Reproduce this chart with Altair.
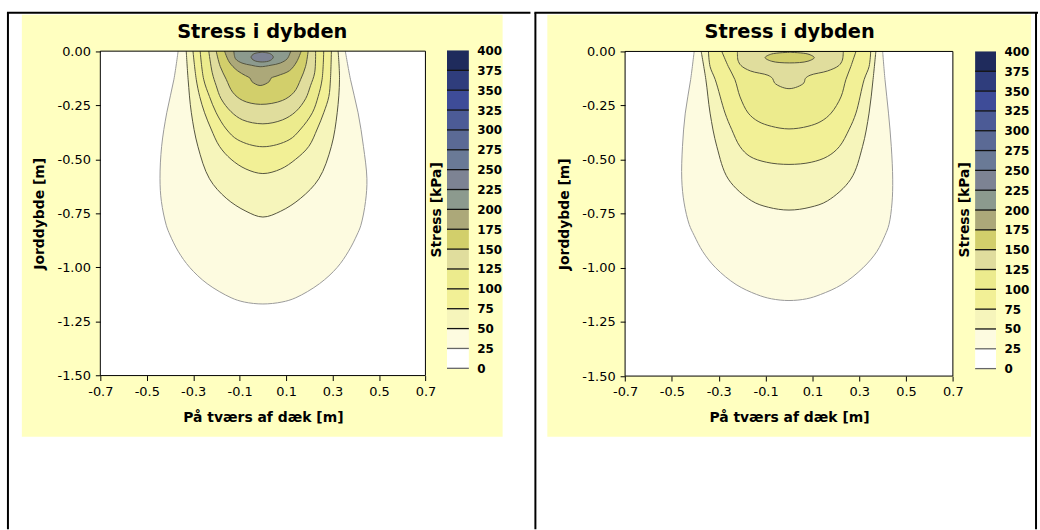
import altair as alt
import pandas as pd

# ------------------------------------------------------------------ data
X_TICKS = [-0.7, -0.5, -0.3, -0.1, 0.1, 0.3, 0.5, 0.7]
Y_TICKS = [0.0, -0.25, -0.5, -0.75, -1.0, -1.25, -1.5]

LEGEND_LO = [0, 25, 50, 75, 100, 125, 150, 175, 200, 225, 250, 275, 300, 325, 350, 375]
LEGEND_HI = [25, 50, 75, 100, 125, 150, 175, 200, 225, 250, 275, 300, 325, 350, 375, 400]
LEGEND_TICKS = [0, 25, 50, 75, 100, 125, 150, 175, 200, 225, 250, 275, 300, 325, 350, 375, 400]

# contour levels (kPa) of the left panel: depth [m], left edge x [m], right edge x [m]
LEFT_LEVELS = [25, 50, 75, 100, 125, 150, 175, 200, 225]
LEFT_DEPTH = {
    25: [0.0, -0.13, -0.285, -0.44, -0.59, -0.695, -0.805, -0.85, -0.925, -1.0, -1.075, -1.14, -1.16, -1.169],
    50: [0.0, -0.13, -0.285, -0.44, -0.59, -0.68, -0.74, -0.767],
    75: [0.0, -0.13, -0.21, -0.285, -0.36, -0.44, -0.5, -0.545, -0.566],
    100: [0.0, -0.13, -0.21, -0.285, -0.36, -0.41, -0.442],
    125: [0.0, -0.1, -0.16, -0.22, -0.28, -0.318, -0.336],
    150: [0.0, -0.07, -0.13, -0.19, -0.228, -0.246],
    175: [0.0, -0.05, -0.09, -0.113, -0.125, -0.14, -0.159],
    200: [0.0, -0.035, -0.055, -0.065, -0.072],
    225: [-0.005, -0.012, -0.0275, -0.043, -0.05],
}
LEFT_XL = {
    25: [-0.365, -0.383, -0.414, -0.436, -0.443, -0.437, -0.416, -0.4, -0.365, -0.315, -0.24, -0.137, -0.08, 0.0],
    50: [-0.33, -0.322, -0.308, -0.28, -0.23, -0.158, -0.073, 0.0],
    75: [-0.301, -0.287, -0.272, -0.251, -0.223, -0.187, -0.137, -0.073, 0.0],
    100: [-0.27, -0.255, -0.23, -0.201, -0.158, -0.108, 0.0],
    125: [-0.233, -0.218, -0.201, -0.18, -0.137, -0.087, 0.0],
    150: [-0.201, -0.184, -0.158, -0.13, -0.087, -0.01],
    175: [-0.165, -0.145, -0.11, -0.075, -0.055, -0.048, -0.012],
    200: [-0.125, -0.118, -0.09, -0.05, -0.012],
    225: [-0.003, -0.038, -0.051, -0.038, -0.003],
}
LEFT_XR = {
    25: [0.355, 0.377, 0.41, 0.433, 0.448, 0.442, 0.422, 0.405, 0.369, 0.32, 0.244, 0.142, 0.082, 0.0],
    50: [0.324, 0.33, 0.32, 0.295, 0.241, 0.163, 0.077, 0.0],
    75: [0.295, 0.291, 0.284, 0.262, 0.234, 0.198, 0.141, 0.077, 0.0],
    100: [0.262, 0.255, 0.238, 0.213, 0.163, 0.113, 0.0],
    125: [0.227, 0.223, 0.205, 0.184, 0.141, 0.084, 0.0],
    150: [0.195, 0.184, 0.163, 0.134, 0.084, -0.01],
    175: [0.165, 0.145, 0.115, 0.065, 0.035, 0.028, -0.012],
    200: [0.12, 0.105, 0.075, 0.035, -0.012],
    225: [-0.003, 0.032, 0.045, 0.032, -0.003],
}

# contour levels of the right panel
RIGHT_LEVELS = [25, 50, 75, 100, 125, 150]
RIGHT_DEPTH = {
    25: [0.0, -0.13, -0.285, -0.44, -0.59, -0.70, -0.80, -0.85, -0.925, -1.0, -1.077, -1.123, -1.143, -1.151],
    50: [0.0, -0.13, -0.285, -0.44, -0.59, -0.69, -0.72, -0.733],
    75: [0.0, -0.07, -0.13, -0.285, -0.36, -0.44, -0.485, -0.512, -0.522],
    100: [0.0, -0.07, -0.13, -0.21, -0.285, -0.323, -0.346, -0.358],
    125: [0.0, -0.04, -0.065, -0.09, -0.11, -0.125, -0.145, -0.163, -0.172],
    150: [-0.004, -0.012, -0.0285, -0.045, -0.053],
}
RIGHT_XL = {
    25: [-0.405, -0.42, -0.443, -0.455, -0.458, -0.448, -0.426, -0.405, -0.368, -0.313, -0.226, -0.138, -0.075, 0.0],
    50: [-0.375, -0.355, -0.337, -0.308, -0.259, -0.16, -0.088, 0.0],
    75: [-0.344, -0.337, -0.315, -0.273, -0.245, -0.209, -0.167, -0.096, 0.0],
    100: [-0.287, -0.259, -0.231, -0.209, -0.174, -0.132, -0.075, 0.0],
    125: [-0.22, -0.218, -0.205, -0.165, -0.09, -0.07, -0.062, -0.035, 0.0],
    150: [0.003, -0.075, -0.102, -0.075, 0.003],
}
RIGHT_XR = {
    25: [0.40, 0.41, 0.425, 0.437, 0.443, 0.44, 0.427, 0.41, 0.375, 0.316, 0.226, 0.135, 0.075, 0.0],
    50: [0.371, 0.359, 0.342, 0.314, 0.264, 0.165, 0.09, 0.0],
    75: [0.349, 0.342, 0.321, 0.286, 0.257, 0.215, 0.165, 0.095, 0.0],
    100: [0.286, 0.264, 0.243, 0.222, 0.18, 0.137, 0.081, 0.0],
    125: [0.232, 0.228, 0.213, 0.165, 0.09, 0.07, 0.064, 0.037, 0.0],
    150: [0.003, 0.081, 0.108, 0.081, 0.003],
}

# ------------------------------------------------------------------ styles
FONT = "DejaVu Sans"
YELLOW = "#ffffc0"
BAND_COLORS = ["#ffffff", "#fdfbe0", "#f6f5bb", "#f2f096", "#eceb8d", "#e0dd9d",
               "#d2cf6b", "#aca879", "#8c9a8e", "#7d8393", "#6a7a96", "#5b6a95",
               "#4c5b96", "#3e4c98", "#2f3d7c", "#1f2b5c"]
RULE_COLORS = ["#666666", "#666666"] + ["#111111"] * 14

LEFT_GEOM = dict(W=533, H=530, px0=100, px1=427.3, py0=375.3, py1=48.7,
                 yellow=(21, 505, 12, 437), title_x=263, lx0=449, lx1=471,
                 ly0=368, ly1=48, ltitle=438.3,
                 borders=[(7, 7, 10, 530), (6, 533, 10, 10)])
RIGHT_GEOM = dict(W=507, H=530, px0=91.3, px1=421.3, py0=375.8, py1=49,
                  yellow=(13, 500, 12, 437), title_x=257, lx0=443.7, lx1=464.7,
                  ly0=368.3, ly1=49, ltitle=433,
                  borders=[(1, 1, 10, 530), (0, 507, 10, 10), (505, 505, 10, 530)])

ONE = [{"k": 1}]


def level_fill(lev):
    return BAND_COLORS[LEGEND_LO.index(lev)]


def level_stroke(lev):
    return "#9a9a9a" if lev == 25 else "#55553f"


def vrect(x0, x1, y0, y1, color):
    return alt.Chart(alt.Data(values=ONE)).mark_rect(fill=color).encode(
        x=alt.value(x0), x2=alt.value(x1), y=alt.value(y0), y2=alt.value(y1))


def vrule(x0, x1, y0, y1):
    return alt.Chart(alt.Data(values=ONE)).mark_rule(color="black", strokeWidth=2).encode(
        x=alt.value(x0), x2=alt.value(x1), y=alt.value(y0), y2=alt.value(y1))


def contour_path(d, xl, xr):
    """Closed outline: down the left edge, back up the right edge."""
    xs = list(xl) + list(reversed(xr[:-1]))
    ys = list(d) + list(reversed(d[:-1]))
    if d[0] != 0.0:  # region not touching the surface: close the loop
        xs.append(xl[0])
        ys.append(d[0])
    return pd.DataFrame({"px": xs, "py": ys, "seq": list(range(len(xs)))})


def make_panel(g, levels, depth, xl, xr):
    W, H = g["W"], g["H"]
    xs = alt.Scale(domain=[X_TICKS[0], X_TICKS[-1]], range=[g["px0"], g["px1"]], nice=False, zero=False)
    ys = alt.Scale(domain=[Y_TICKS[-1], Y_TICKS[0]], range=[g["py0"], g["py1"]], nice=False, zero=False)

    x_axis = alt.Axis(
        orient="bottom", offset=g["py0"] - H, values=X_TICKS, zindex=2,
        labelExpr="replace(format(datum.value, '.1f'), '\u2212', '-')",
        domain=False, grid=False, ticks=True, tickSize=5, tickColor="black", tickWidth=1,
        labelFont=FONT, labelFontSize=13, labelColor="black", labelPadding=5,
        labelFlush=False, labelOverlap=False,
        title="På tværs af dæk [m]", titleFont=FONT, titleFontSize=14, titleFontWeight="bold",
        titleColor="black", titleX=(g["px0"] + g["px1"]) / 2, titleY=42,
        titleAlign="center", titleBaseline="middle")
    y_axis = alt.Axis(
        orient="left", offset=-g["px0"], values=Y_TICKS, zindex=2,
        labelExpr="replace(format(datum.value, '.2f'), '\u2212', '-')",
        domain=False, grid=False, ticks=True, tickSize=5, tickColor="black", tickWidth=1,
        labelFont=FONT, labelFontSize=13, labelColor="black", labelPadding=5,
        labelOverlap=False, labelFlush=False,
        title="Jorddybde [m]", titleFont=FONT, titleFontSize=14, titleFontWeight="bold",
        titleColor="black", titleX=-61, titleY=(g["py0"] + g["py1"]) / 2,
        titleAngle=270, titleAlign="center", titleBaseline="middle")

    frame_df = pd.DataFrame({"x0": [X_TICKS[0]], "x1": [X_TICKS[-1]],
                             "y0": [Y_TICKS[-1]], "y1": [Y_TICKS[0]]})

    layers = [vrect(0, W, 0, H, "white"), vrect(*g["yellow"], YELLOW)]
    for b in g["borders"]:
        layers.append(vrule(*b))
    layers.append(
        alt.Chart(alt.Data(values=ONE)).mark_text(
            text="Stress i dybden", font=FONT, fontSize=19.5, fontWeight="bold",
            align="center", baseline="alphabetic", color="black").encode(
            x=alt.value(g["title_x"]), y=alt.value(35)))
    layers.append(
        alt.Chart(frame_df).mark_rect(fill="white").encode(
            x=alt.X("x0:Q", scale=xs, axis=x_axis), x2="x1",
            y=alt.Y("y0:Q", scale=ys, axis=y_axis), y2="y1"))
    for lev in levels:
        df = contour_path(depth[lev], xl[lev], xr[lev])
        layers.append(
            alt.Chart(df).mark_line(
                interpolate="catmull-rom", fill=level_fill(lev),
                stroke=level_stroke(lev), strokeWidth=1).encode(
                x=alt.X("px:Q", scale=xs, axis=x_axis),
                y=alt.Y("py:Q", scale=ys, axis=y_axis),
                order="seq:Q"))
    layers.append(
        alt.Chart(frame_df).mark_rect(fillOpacity=0, stroke="black", strokeWidth=1).encode(
            x=alt.X("x0:Q", scale=xs, axis=x_axis), x2="x1",
            y=alt.Y("y0:Q", scale=ys, axis=y_axis), y2="y1"))
    contour = alt.layer(*layers)

    ls = alt.Scale(domain=[LEGEND_TICKS[0], LEGEND_TICKS[-1]], range=[g["ly0"], g["ly1"]], nice=False, zero=False)
    l_axis = alt.Axis(
        orient="right", offset=g["lx1"] - W, values=LEGEND_TICKS, format="d", zindex=2,
        domain=False, ticks=False, grid=False, labelPadding=8,
        labelFont=FONT, labelFontSize=12, labelFontWeight="bold", labelColor="black",
        labelOverlap=False, labelFlush=False,
        title="Stress [kPa]", titleFont=FONT, titleFontSize=14, titleFontWeight="bold",
        titleColor="black", titleX=g["ltitle"] - g["lx1"], titleY=208, titleAngle=270,
        titleAlign="center", titleBaseline="middle")
    band_df = pd.DataFrame({"lo": LEGEND_LO, "hi": LEGEND_HI})
    rule_df = pd.DataFrame({"lo": LEGEND_LO})
    bands = alt.Chart(band_df).mark_rect().encode(
        y=alt.Y("lo:Q", scale=ls, axis=l_axis), y2="hi",
        x=alt.value(g["lx0"]), x2=alt.value(g["lx1"]),
        fill=alt.Fill("lo:O", scale=alt.Scale(domain=LEGEND_LO, range=BAND_COLORS), legend=None))
    rules = alt.Chart(rule_df).mark_rule(strokeWidth=1.3).encode(
        y=alt.Y("lo:Q", scale=ls, axis=l_axis),
        x=alt.value(g["lx0"]), x2=alt.value(g["lx1"]),
        color=alt.Color("lo:O", scale=alt.Scale(domain=LEGEND_LO, range=RULE_COLORS), legend=None))
    legend = alt.layer(bands, rules)

    return alt.layer(contour, legend).resolve_scale(y="independent").properties(width=W, height=H)


left = make_panel(LEFT_GEOM, LEFT_LEVELS, LEFT_DEPTH, LEFT_XL, LEFT_XR)
right = make_panel(RIGHT_GEOM, RIGHT_LEVELS, RIGHT_DEPTH, RIGHT_XL, RIGHT_XR)

chart = (
    alt.hconcat(left, right, spacing=0)
    .resolve_scale(x="independent", y="independent")
    .properties(padding=0, background="white")
    .configure_view(stroke="transparent", fill="white")
)

chart.save("out.html", embed_options={"renderer": "svg", "actions": False})
